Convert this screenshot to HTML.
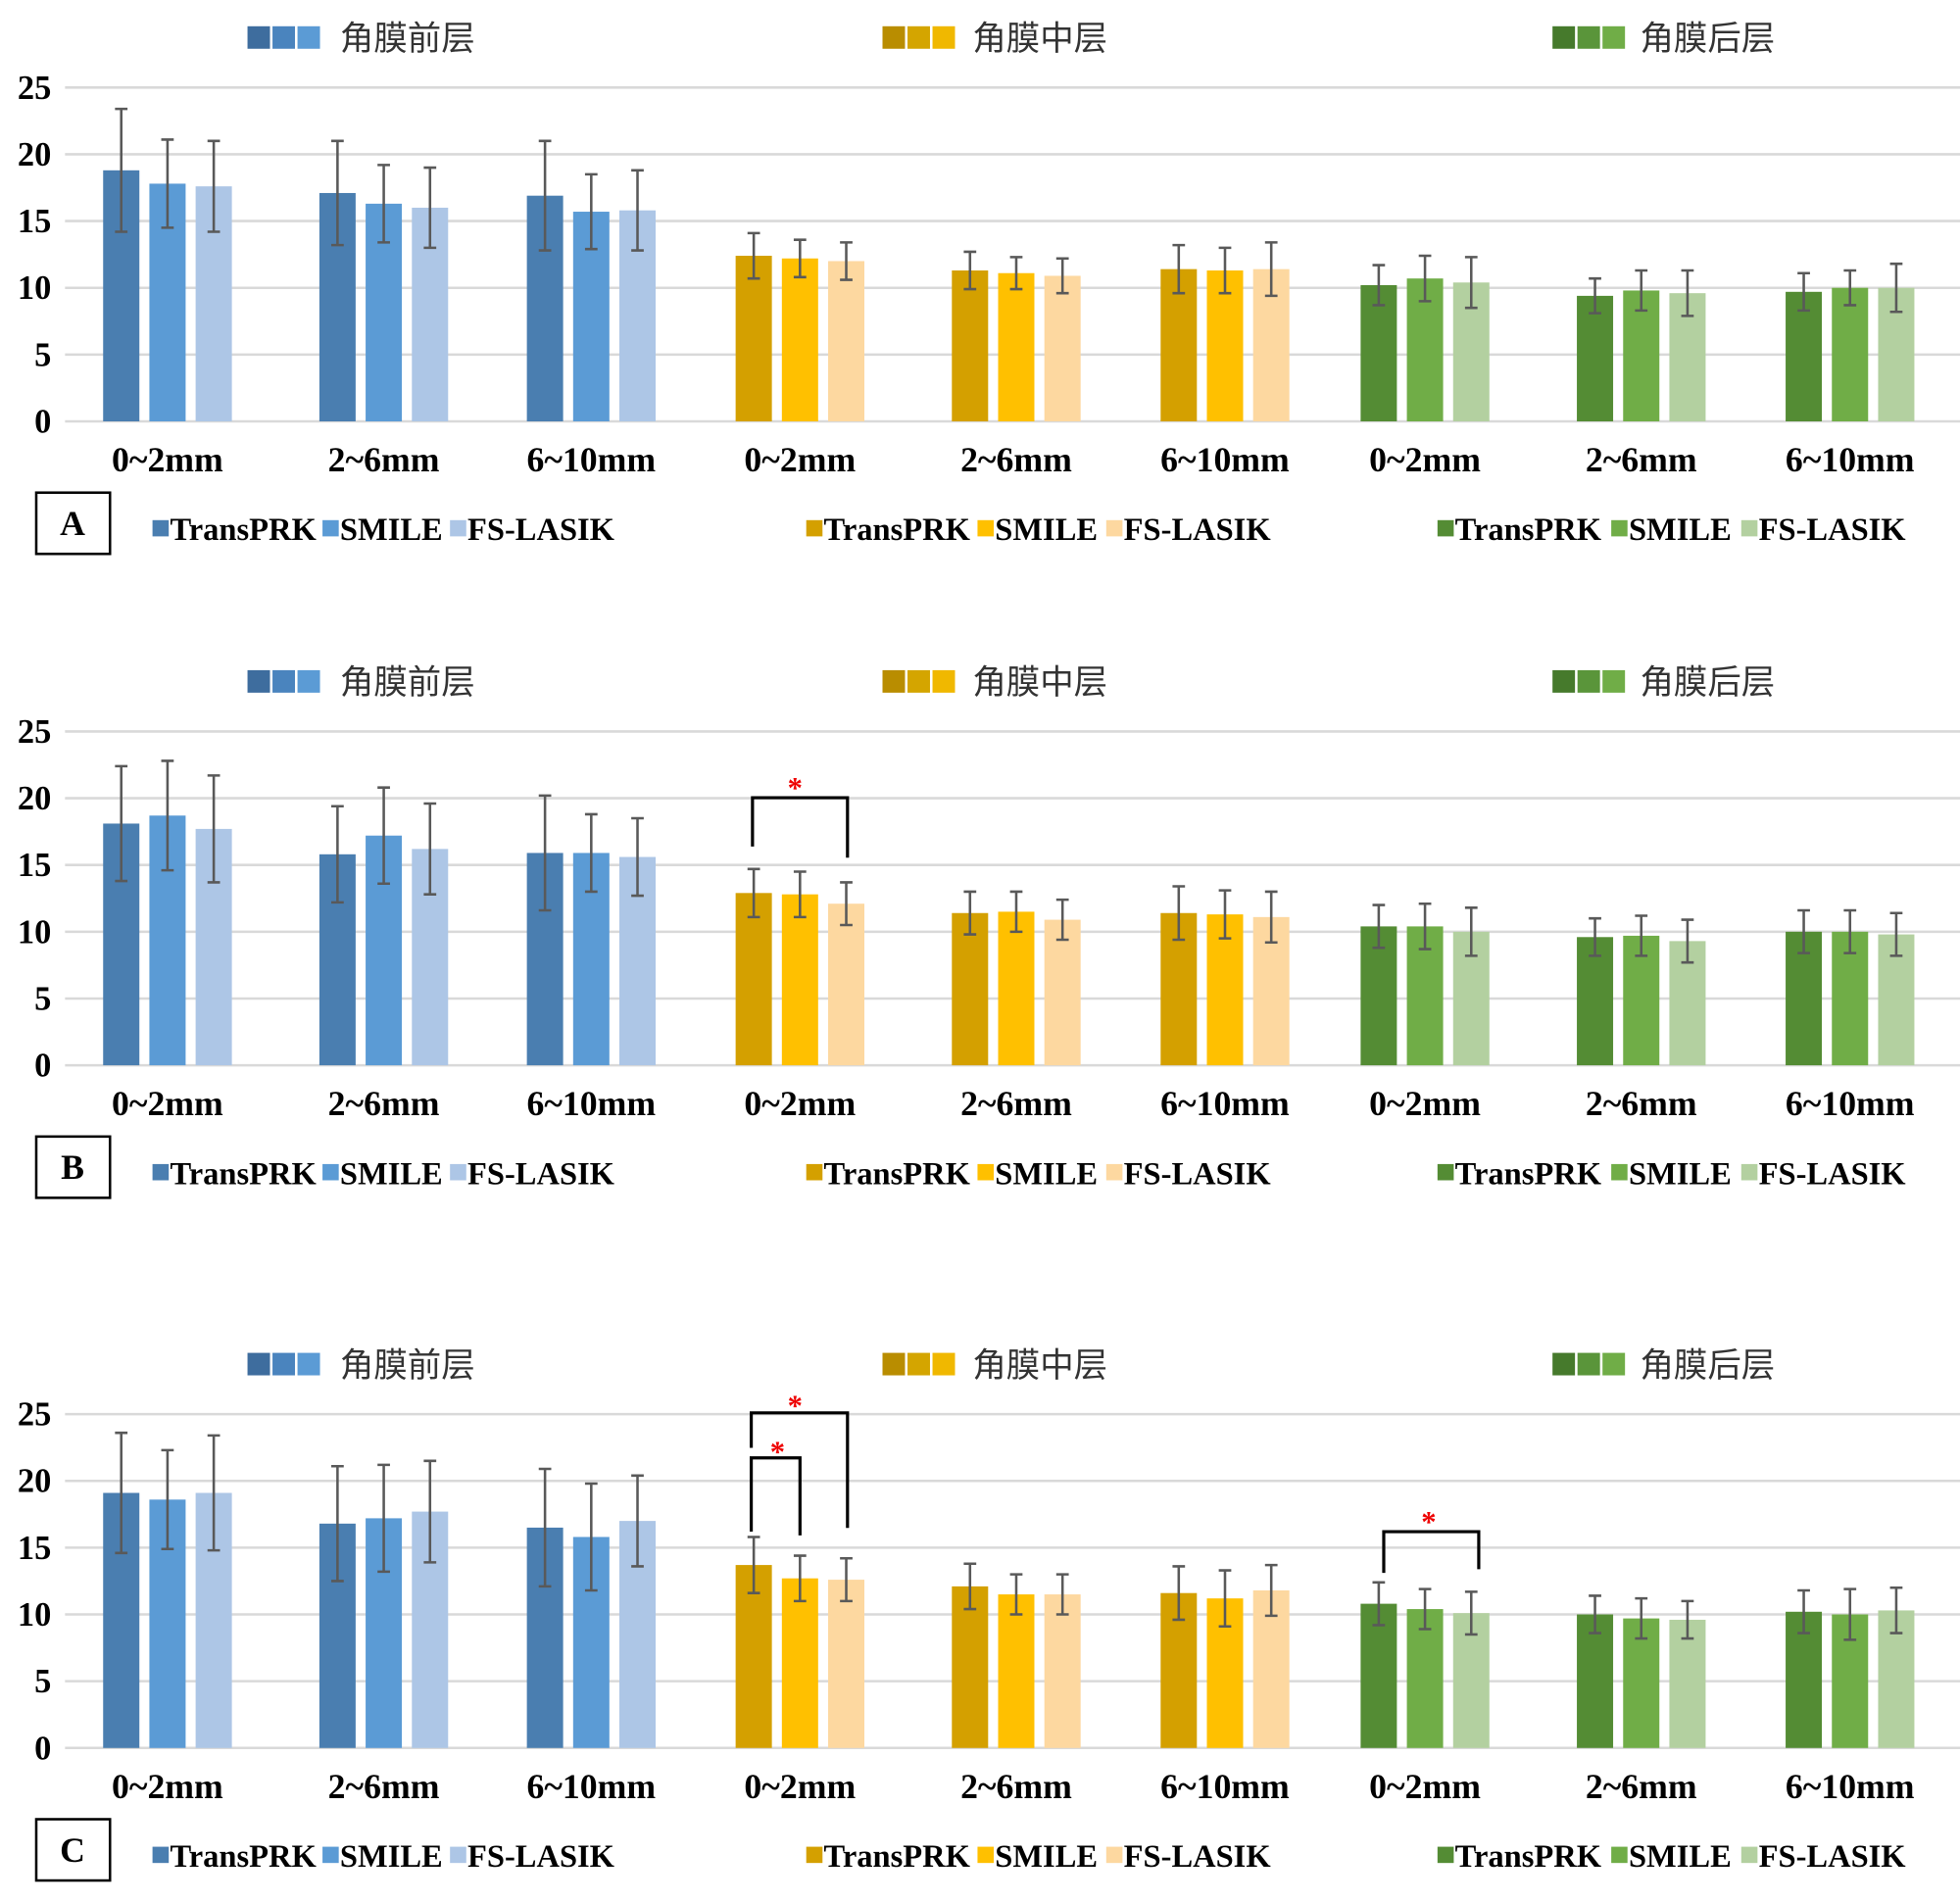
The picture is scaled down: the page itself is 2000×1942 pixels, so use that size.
<!DOCTYPE html>
<html><head><meta charset="utf-8"><style>
html,body{margin:0;padding:0;background:#fff;}
svg{display:block;}
</style></head><body>
<svg id="fig" width="2000" height="1942" viewBox="0 0 1568 1522" preserveAspectRatio="none" xmlns="http://www.w3.org/2000/svg"></svg>
<script>
// ---- data ----
const categories = ["0~2mm","2~6mm","6~10mm"];
const layers = ["角膜前层","角膜中层","角膜后层"];
const groups = ["TransPRK","SMILE","FS-LASIK"];
const yTicks = [0,5,10,15,20,25];
// Panel A (each layer: 3 regions x 3 groups, flattened region-major)
const A_front = [18.8,17.8,17.6, 17.1,16.3,16.0, 16.9,15.7,15.8];
const A_front_sd = [4.6,3.3,3.4, 3.9,2.9,3.0, 4.1,2.8,3.0];
const A_mid = [12.4,12.2,12.0, 11.3,11.1,10.9, 11.4,11.3,11.4];
const A_mid_sd = [1.7,1.4,1.4, 1.4,1.2,1.3, 1.8,1.7,2.0];
const A_back = [10.2,10.7,10.4, 9.4,9.8,9.6, 9.7,10.0,10.0];
const A_back_sd = [1.5,1.7,1.9, 1.3,1.5,1.7, 1.4,1.3,1.8];
// Panel B
const B_front = [18.1,18.7,17.7, 15.8,17.2,16.2, 15.9,15.9,15.6];
const B_front_sd = [4.3,4.1,4.0, 3.6,3.6,3.4, 4.3,2.9,2.9];
const B_mid = [12.9,12.8,12.1, 11.4,11.5,10.9, 11.4,11.3,11.1];
const B_mid_sd = [1.8,1.7,1.6, 1.6,1.5,1.5, 2.0,1.8,1.9];
const B_back = [10.4,10.4,10.0, 9.6,9.7,9.3, 10.0,10.0,9.8];
const B_back_sd = [1.6,1.7,1.8, 1.4,1.5,1.6, 1.6,1.6,1.6];
// Panel C
const C_front = [19.1,18.6,19.1, 16.8,17.2,17.7, 16.5,15.8,17.0];
const C_front_sd = [4.5,3.7,4.3, 4.3,4.0,3.8, 4.4,4.0,3.4];
const C_mid = [13.7,12.7,12.6, 12.1,11.5,11.5, 11.6,11.2,11.8];
const C_mid_sd = [2.1,1.7,1.6, 1.7,1.5,1.5, 2.0,2.1,1.9];
const C_back = [10.8,10.4,10.1, 10.0,9.7,9.6, 10.2,10.0,10.3];
const C_back_sd = [1.6,1.5,1.6, 1.4,1.5,1.4, 1.6,1.9,1.7];

const panels = [
 {label:"A", top:0, vals:[A_front,A_mid,A_back], sds:[A_front_sd,A_mid_sd,A_back_sd]},
 {label:"B", top:515, vals:[B_front,B_mid,B_back], sds:[B_front_sd,B_mid_sd,B_back_sd]},
 {label:"C", top:1061, vals:[C_front,C_mid,C_back], sds:[C_front_sd,C_mid_sd,C_back_sd]}
];
const colors = [["#4a7eb0","#5b9bd5","#adc6e6"],["#d4a000","#ffc000","#fdd8a0"],["#548c34","#70ad47","#b3d0a0"]];
const headColors = [["#3e6d9e","#4a84be","#5b9bd5"],["#b98d00","#d4a500","#f0b800"],["#467a2c","#5a953a","#70ad47"]];

const NS="http://www.w3.org/2000/svg";
const svg=document.getElementById('fig');
function mk(tag,attrs,parent){const e=document.createElementNS(NS,tag);for(const k in attrs)e.setAttribute(k,attrs[k]);(parent||svg).appendChild(e);return e;}
const SERIF='"Liberation Serif", serif';
const CJK='"Liberation Sans", "Noto Sans CJK SC", sans-serif';

const groupCenters=[134,307,473,640,813,980,1140,1313,1480];
const barOff=37, barW=29;

panels.forEach((p,pi)=>{
  const T=p.top;
  const y0=T+337, unit=(337-70)/25;
  const yScale=v=>y0-v*unit;
  const g=mk('g',{});
  
  
  const hx=[198,706,1242], tx=[272,778,1312];
  layers.forEach((L,li)=>{
    for(let k=0;k<3;k++){
      const r=mk('rect',{x:hx[li]+k*20,y:T+21,width:18,height:18,fill:headColors[li][k]},g);
      
      
    }
    const t=mk('text',{x:tx[li],y:T+40,'font-family':CJK,'font-size':27,fill:'#333'},g);
    t.textContent=L;
    
    
  });
  yTicks.forEach(v=>{
    const l=mk('line',{x1:52,x2:1568,y1:yScale(v),y2:yScale(v),stroke:'#d9d9d9','stroke-width':2},g);
    
    
    const t=mk('text',{x:41,y:yScale(v)+9,'text-anchor':'end','font-family':SERIF,'font-weight':'bold','font-size':27,fill:'#000'},g);
    t.textContent=v;
    
    
  });
  p.vals.forEach((arr,li)=>{
    arr.forEach((v,i)=>{
      const region=Math.floor(i/3), gi=i%3;
      const gc=groupCenters[li*3+region];
      const cx=gc+(gi-1)*barOff;
      const r=mk('rect',{x:cx-barW/2,y:yScale(v),width:barW,height:y0-yScale(v),fill:colors[li][gi]},g);
      
      
      const sd=p.sds[li][i];
      const e=mk('path',{d:`M${cx},${yScale(v+sd)}V${yScale(v-sd)}M${cx-5},${yScale(v+sd)}H${cx+5}M${cx-5},${yScale(v-sd)}H${cx+5}`,stroke:'#595959','stroke-width':2,fill:'none'},g);
      
      
    });
  });
  groupCenters.forEach((gc,i)=>{
    const t=mk('text',{x:gc,y:T+377,'text-anchor':'middle','font-family':SERIF,'font-weight':'bold','font-size':28,fill:'#000'},g);
    t.textContent=categories[i%3];
    
    
  });
  const b=mk('rect',{x:29,y:T+394,width:59,height:49,fill:'none',stroke:'#000','stroke-width':2},g);
  
  
  const bt=mk('text',{x:58,y:T+428,'text-anchor':'middle','font-family':SERIF,'font-weight':'bold','font-size':28},g);
  bt.textContent=p.label;
  
  
  const lx=[[122,258,360],[645,782,885],[1150,1289,1393]];
  lx.forEach((xs,li)=>{
    xs.forEach((x,gi)=>{
      const s=mk('rect',{x:x,y:T+416,width:13,height:13,fill:colors[li][gi]},g);
      
      
      const t=mk('text',{x:x+14,y:T+432,'font-family':SERIF,'font-weight':'bold','font-size':25.5,fill:'#000'},g);
      t.textContent=groups[gi];
      
      
    });
  });
});

function bracket(d,sx,sy){
  const p=mk('path',{d:d,stroke:'#000','stroke-width':2.5,fill:'none'});
  
  
  const t=mk('text',{x:sx,y:sy,'text-anchor':'middle','font-family':SERIF,'font-weight':'bold','font-size':24,fill:'#e00'});
  t.textContent='*';
  
  
}
bracket('M602,677V638H678V686',636,638);
bracket('M601,1158V1130H678V1222',636,1132);
bracket('M601,1225V1166H640V1228',622,1169);
bracket('M1107,1258V1225H1183V1255',1143,1225);
</script>
</body></html>
